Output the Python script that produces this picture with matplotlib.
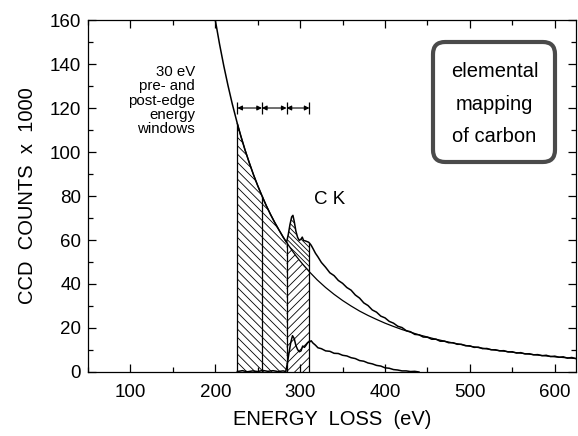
import numpy as np
import matplotlib
matplotlib.use("Agg")
import matplotlib.pyplot as plt
from matplotlib.patches import FancyBboxPatch
from matplotlib.ticker import MultipleLocator

plt.rcParams['font.family'] = ['Liberation Sans', 'DejaVu Sans']
plt.rcParams['hatch.linewidth'] = 0.6

# measured spectrum around the carbon K edge (counts / 1000)
spec_energy = [195, 200, 205, 210, 215, 220, 226, 230, 235, 240, 245, 250, 255, 260,
               265, 270, 275, 280, 284, 286, 288, 290, 291.5, 293, 295, 297, 299, 301,
               302.5, 304, 306, 308, 310, 311, 313, 315, 318, 321, 325, 330, 335, 340,
               345, 350, 355, 360, 365, 370, 375, 380, 385, 390, 395, 400, 405, 410,
               415, 420, 425, 430, 435, 440, 445, 450, 455, 460, 465, 470, 475, 480,
               485, 490, 495, 500, 505, 510, 515, 520, 525, 530, 535, 540, 545, 550,
               555, 560, 565, 570, 575, 580, 585, 590, 595, 600, 605, 610, 615, 620, 625]
spec_counts = [172.0, 160.0, 149.1, 139.2, 130.2, 121.9, 112.9, 107.4, 101.0, 95.2, 89.7,
               84.7, 80.1, 75.7, 71.7, 68.0, 64.6, 61.3, 58.9, 62.5, 67.0, 70.5, 71.2, 68.5,
               64.0, 61.2, 59.8, 60.4, 61.3, 59.8, 59.6, 59.3, 59.0, 58.6, 57.6, 56.2, 54.0,
               52.3, 49.8, 47.6, 45.1, 43.8, 41.6, 40.3, 38.4, 37.2, 35.0, 33.6, 31.4, 30.2,
               28.2, 27.2, 25.4, 24.6, 23.0, 22.2, 20.8, 20.2, 18.8, 18.3, 17.1, 16.9, 15.9,
               15.8, 14.9, 14.9, 14.0, 14.0, 13.3, 13.3, 12.6, 12.6, 11.9, 11.9, 11.2, 11.3,
               10.6, 10.7, 10.1, 10.1, 9.6, 9.7, 9.1, 9.2, 8.6, 8.8, 8.2, 8.3, 7.8, 7.9, 7.4,
               7.6, 7.0, 7.2, 6.7, 6.9, 6.3, 6.6, 6.1]

# power-law background fitted to the pre-edge windows
bg_energy = [226, 230, 235, 240, 245, 250, 255, 260, 265, 270, 275, 280, 284, 290, 295,
             300, 305, 311, 320, 330, 340, 350, 360, 370, 380, 390, 400, 410, 420, 430,
             440, 450, 460, 475, 500, 525, 550, 575, 600, 625]
bg_counts = [112.9, 107.4, 101.0, 95.2, 89.7, 84.7, 80.1, 75.7, 71.7, 68.0, 64.6, 61.3,
             58.9, 55.5, 52.8, 50.4, 48.1, 45.5, 41.9, 38.4, 35.3, 32.5, 30.0, 27.7, 25.7,
             23.9, 22.2, 20.7, 19.3, 18.1, 16.9, 15.9, 14.9, 13.6, 11.7, 10.2, 9.0, 7.9,
             6.9, 6.1]

# background-subtracted carbon K signal
diff_energy = [226, 232, 238, 244, 250, 256, 262, 268, 274, 280, 283, 285, 287, 289, 291,
               293, 295, 297, 299, 301, 303, 305, 307, 309, 311, 313, 315, 318, 321, 325,
               330, 335, 340, 345, 350, 355, 360, 365, 370, 375, 380, 385, 390, 395, 400,
               405, 410, 415, 420, 425, 430, 435, 440]
diff_counts = [0.2, 0.6, 0.1, 0.5, 0.2, 0.7, 0.3, 0.6, 0.2, 0.5, 0.2, 4.0, 9.0, 13.5, 16.5,
               15.2, 12.0, 10.2, 9.2, 9.6, 11.8, 11.2, 12.2, 13.4, 13.6, 14.2, 13.2, 12.2,
               11.0, 10.6, 9.6, 9.4, 8.5, 8.4, 7.6, 7.3, 6.5, 6.1, 5.2, 4.9, 4.1, 3.7, 3.0,
               2.7, 1.9, 1.7, 1.1, 0.9, 0.5, 0.5, 0.2, 0.3, 0.0]

# window edges: two pre-edge, one post-edge (eV)
windows = [226, 255, 284, 311]

spec_e = np.array(spec_energy)
spec_c = np.array(spec_counts)
bg_e = np.array(bg_energy)
bg_c = np.array(bg_counts)

fig = plt.figure(figsize=(5.78, 4.36), dpi=100)
ax = fig.add_axes([0.1522, 0.1468, 0.8443, 0.8073])

# hatched pre-edge windows under the spectrum
for lo, hi in [(windows[0], windows[1]), (windows[1], windows[2])]:
    m = (spec_e >= lo) & (spec_e <= hi)
    xs = np.concatenate([[lo], spec_e[m], [hi]])
    ys = np.concatenate([[0], spec_c[m], [0]])
    ax.fill(xs, ys, facecolor='none', edgecolor='k', hatch='\\\\\\\\', linewidth=0)

# post-edge window: background part and edge signal part
lo, hi = windows[2], windows[3]
mb = (bg_e >= lo) & (bg_e <= hi)
ax.fill(np.concatenate([[lo], bg_e[mb], [hi]]), np.concatenate([[0], bg_c[mb], [0]]),
        facecolor='none', edgecolor='k', hatch='////', linewidth=0)
ms = (spec_e >= lo) & (spec_e <= hi)
ax.fill(np.concatenate([spec_e[ms], bg_e[mb][::-1]]),
        np.concatenate([spec_c[ms], bg_c[mb][::-1]]),
        facecolor='none', edgecolor='k', hatch='\\\\\\\\\\\\\\', linewidth=0)

# window boundaries
ax.vlines(windows, 0, np.interp(windows, spec_e, spec_c), color='k', lw=0.9)

ax.plot(bg_e, bg_c, color='k', lw=0.9)
ax.plot(spec_e, spec_c, color='k', lw=1.1)
ax.plot(diff_energy, diff_counts, color='k', lw=1.1)

# window width arrows
arrow_y = 120
for a, b in zip(windows[:-1], windows[1:]):
    ax.annotate('', xy=(b, arrow_y), xytext=(a, arrow_y),
                arrowprops=dict(arrowstyle='<|-|>', color='k', lw=0.8,
                                mutation_scale=7, shrinkA=0, shrinkB=0))
ax.vlines(windows, arrow_y - 2.6, arrow_y + 2.6, color='k', lw=0.9)

ax.text(176, 139.5, '30 eV\npre- and\npost-edge\nenergy\nwindows', ha='right', va='top',
        fontsize=10.8, linespacing=1.02)
ax.text(335, 78.5, 'C K', ha='center', va='center', fontsize=13.5)

# framed label
box = FancyBboxPatch((433 / 578, 274 / 436), 122 / 578, 120 / 436,
                     boxstyle='round,pad=0,rounding_size=0.021',
                     mutation_aspect=578 / 436, transform=fig.transFigure,
                     facecolor='none', edgecolor='#4a4a4a', lw=3, clip_on=False)
ax.add_patch(box)
for txt, yb in [('elemental', 134.2), ('mapping', 119.1), ('of carbon', 104.7)]:
    ax.text(529, yb, txt, ha='center', va='baseline', fontsize=14.5)

ax.set_xlim(50, 625)
ax.set_ylim(0, 160)
ax.xaxis.set_major_locator(MultipleLocator(100))
ax.xaxis.set_minor_locator(MultipleLocator(50))
ax.yaxis.set_major_locator(MultipleLocator(20))
ax.yaxis.set_minor_locator(MultipleLocator(10))
ax.tick_params(which='both', direction='in', top=True, right=True, labelsize=13.5)
ax.tick_params(which='major', length=6, width=0.9)
ax.tick_params(which='minor', length=3.5, width=0.9)
ax.tick_params(axis='x', pad=9)
ax.tick_params(axis='y', pad=5)
for s in ax.spines.values():
    s.set_linewidth(0.9)

ax.set_xlabel('ENERGY  LOSS  (eV)', fontsize=14.5, labelpad=6)
ax.set_ylabel('CCD  COUNTS  x  1000', fontsize=14.5, labelpad=9)

fig.savefig('out.png', dpi=100)
